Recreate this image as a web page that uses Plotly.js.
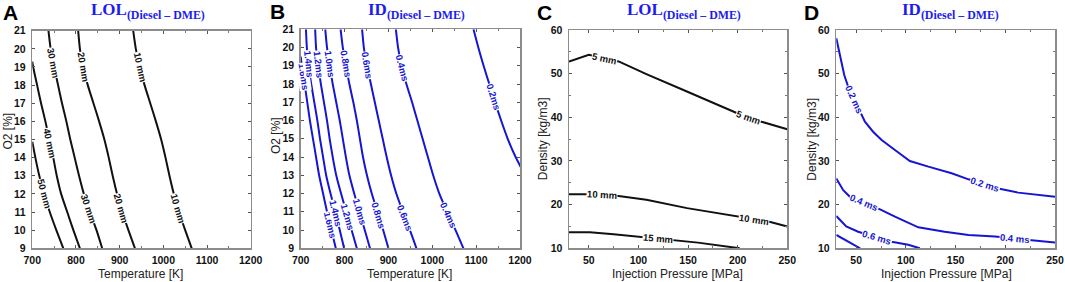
<!DOCTYPE html>
<html><head><meta charset="utf-8">
<script src="https://cdn.plot.ly/plotly-3.0.1.min.js"></script>
<style>html,body{margin:0;padding:0;background:#fff;}#chart{width:1065px;height:282px;}</style>
</head><body><div id="chart"></div>
<script>
// ---------- DATA ----------
const O2_GRID = [21, 20, 19, 18, 17, 16, 15, 14, 13, 12, 11, 10, 9];

// Panel A: LOL contours, Temperature [K] vs O2 [%]
const lolA_names = ['10 mm', '20 mm', '30 mm', '40 mm', '50 mm'];
const lolA_T = [
  [931, 937, 946, 957, 970, 983, 995, 1005, 1014, 1024, 1036, 1050, 1065],
  [805, 809, 816, 827, 840, 853, 865, 875, 884, 894, 906, 920, 935],
  [737, 742, 750, 759, 768, 778, 787, 797, 807, 818, 832, 847, 860],
  [700, 702, 711, 720, 730, 739, 748, 756, 766, 780, 794, 809],
  [700, 707, 716, 727, 740, 755, 771]
];
const lolA_O2 = [
  O2_GRID, O2_GRID, O2_GRID,
  [19.3, 19, 18, 17, 16, 15, 14, 13, 12, 11, 10, 9],
  [14.88, 14, 13, 12, 11, 10, 9]
];
const lolA_labelLine = [0, 0, 1, 1, 2, 2, 3, 4];
const lolA_labelO2   = [19.0, 11.2, 19.0, 11.2, 19.2, 11.2, 14.8, 12.0];

// Panel B: ID contours, Temperature [K] vs O2 [%]
const idB_names = ['1.6ms', '1.4ms', '1.2ms', '1.0ms', '0.8ms', '0.6ms', '0.4ms', '0.2ms'];
const idB_T = [
  [700, 703, 709, 715, 721, 728, 735, 742, 751, 760, 770, 780],
  [712, 714, 718, 724, 731, 738, 744, 751, 758, 768, 779, 789, 799],
  [733, 735, 740, 746, 753, 760, 766, 773, 781, 792, 804, 816, 828],
  [756, 760, 766, 773, 781, 789, 796, 803, 811, 822, 834, 846, 858],
  [791, 796, 803, 811, 820, 828, 835, 842, 851, 862, 875, 888, 900],
  [840, 844, 851, 860, 869, 878, 887, 896, 906, 918, 933, 949, 964],
  [917, 922, 930, 941, 954, 966, 978, 990, 1002, 1016, 1034, 1053, 1071],
  [1094, 1105, 1117, 1130, 1143, 1157, 1172, 1190, 1212]
];
const idB_O2 = [
  [19.5, 19, 18, 17, 16, 15, 14, 13, 12, 11, 10, 9],
  O2_GRID, O2_GRID, O2_GRID, O2_GRID, O2_GRID, O2_GRID,
  [21, 20, 19, 18, 17, 16, 15, 14, 13]
];
const idB_labelLine = [0, 0, 1, 1, 2, 2, 3, 3, 4, 4, 5, 5, 6, 6, 7];
const idB_labelO2   = [18.4, 10.3, 19.1, 10.9, 19.1, 10.7, 19.1, 11.0, 19.1, 10.8, 19.0, 10.7, 18.9, 10.8, 17.3];

// Panel C: LOL contours, Injection Pressure [MPa] vs Density [kg/m3]
const lolC_names = ['5 mm', '10 mm', '15 mm'];
const lolC_P = [
  [30, 50, 80, 108, 150, 199, 224, 250],
  [30, 48, 80, 108, 149, 199, 232, 250],
  [30, 51, 75, 101, 135, 160, 202]
];
const lolC_rho = [
  [52.75, 54.3, 52.8, 49.9, 45.8, 41.0, 39.0, 37.25],
  [22.4, 22.4, 22.0, 21.1, 19.2, 17.25, 16.1, 15.0],
  [13.7, 13.65, 13.2, 12.6, 11.9, 11.3, 10.0]
];
const lolC_labelLine = [0, 0, 1, 1, 2];
const lolC_labelP    = [66, 211, 63, 216, 120];

// Panel D: ID contours, Injection Pressure [MPa] vs Density [kg/m3]
const idD_names = ['0.2 ms', '0.4 ms', '0.6 ms', ''];
const idD_P = [
  [30, 33.7, 38, 42, 50, 58.8, 67, 75.6, 89, 104, 122.6, 146, 163, 193, 213, 250],
  [30, 37, 43.7, 74, 89, 104, 112.5, 139, 163, 189.6, 228, 250],
  [30, 40, 52, 85.7, 102.4, 114],
  [30, 42, 54]
];
const idD_rho = [
  [58.1, 53.9, 49.7, 47, 43, 39.0, 36.7, 34.8, 32.5, 30, 28.7, 27.2, 25.8, 23.7, 22.75, 21.8],
  [26.0, 23.3, 21.8, 18.9, 17.25, 15.7, 14.8, 13.8, 13.05, 12.7, 11.9, 11.3],
  [17.4, 15.0, 13.8, 11.5, 10.8, 10.0],
  [13.05, 11.5, 10.0]
];
const idD_labelLine = [0, 0, 1, 1, 2];
const idD_labelP    = [48, 180, 58, 210, 71];

// Texts
const panelLetters = ['A', 'B', 'C', 'D'];
const panelTitleMain = ['LOL', 'ID', 'LOL', 'ID'];
const panelTitleSub = '(Diesel – DME)';
const xTitles = ['Temperature [K]', 'Temperature [K]', 'Injection Pressure [MPa]', 'Injection Pressure [MPa]'];
const yTitles = ['O2 [%]', 'O2 [%]', 'Density [kg/m3]', 'Density [kg/m3]'];

// ---------- LAYOUT / STYLE ----------
const W = 1065, H = 282;
const BLACK = '#111111', BLUE = '#1616d2', TITLE_BLUE = '#1c1cf0';
const P = [
  {id: '',  left: 32.3,  right: 250.7, top: 30.7, bottom: 248.3, xr: [700, 1200], yr: [9, 21], xd: 100, xm: 50, yd: 1, ym: null,
   letter: [10.5, 12.5], title: [148, 11], xt: [140.5, 274], yt: [7.5, 131]},
  {id: '2', left: 300.7, right: 520,   top: 29.3, bottom: 248.3, xr: [700, 1200], yr: [9, 21], xd: 100, xm: 50, yd: 1, ym: null,
   letter: [277.5, 12], title: [416, 11], xt: [409, 274], yt: [276, 136]},
  {id: '3', left: 569,   right: 787.3, top: 30,   bottom: 248.3, xr: [30, 250], yr: [10, 60], xd: 50, xm: 25, yd: 10, ym: 5,
   letter: [544, 12.5], title: [684, 11], xt: [677, 274], yt: [542.7, 138.5]},
  {id: '4', left: 836.3, right: 1055,  top: 30,   bottom: 248.3, xr: [30, 250], yr: [10, 60], xd: 50, xm: 25, yd: 10, ym: 5,
   letter: [811.5, 12.5], title: [950, 11], xt: [946, 274], yt: [811.7, 139]}
];

const layout = {
  width: W, height: H, margin: {l: 0, r: 0, t: 0, b: 0},
  paper_bgcolor: '#ffffff', plot_bgcolor: '#ffffff', showlegend: false,
  annotations: []
};
const tickFont = {family: 'Arial, Liberation Sans', size: 10.5, color: '#111', weight: 'bold'};

P.forEach((p, i) => {
  const common = {
    showline: true, linecolor: '#8c8c8c', linewidth: 1.5, mirror: 'ticks',
    ticks: 'inside', ticklen: 3, tickwidth: 1, tickcolor: '#555',
    showgrid: false, zeroline: false, tickfont: tickFont, fixedrange: true
  };
  layout['xaxis' + p.id] = Object.assign({}, common, {
    domain: [p.left / W, p.right / W], range: p.xr, dtick: p.xd, tick0: 0,
    anchor: 'y' + p.id, ticklabelstandoff: 2,
    minor: {ticks: 'inside', ticklen: 2, dtick: p.xm, tick0: 0, tickcolor: '#777', showgrid: false}
  });
  const ya = Object.assign({}, common, {
    domain: [1 - p.bottom / H, 1 - p.top / H], range: p.yr, dtick: p.yd, tick0: 0,
    anchor: 'x' + p.id, ticklabelstandoff: 3
  });
  if (p.ym) ya.minor = {ticks: 'inside', ticklen: 2, dtick: p.ym, tick0: 0, tickcolor: '#777', showgrid: false};
  layout['yaxis' + p.id] = ya;

  layout.annotations.push({
    xref: 'paper', yref: 'paper', x: p.letter[0] / W, y: 1 - p.letter[1] / H,
    xanchor: 'center', yanchor: 'middle', showarrow: false, text: '<b>' + panelLetters[i] + '</b>',
    font: {family: 'Arial, Liberation Sans', size: 21, color: '#000'}
  });
  layout.annotations.push({
    xref: 'paper', yref: 'paper', x: p.title[0] / W, y: 1 - p.title[1] / H,
    xanchor: 'center', yanchor: 'middle', showarrow: false,
    text: '<b>' + panelTitleMain[i] + '<sub>' + panelTitleSub + '</sub></b>',
    font: {family: 'Liberation Serif, Times New Roman, serif', size: 17, color: TITLE_BLUE}
  });
  layout.annotations.push({
    xref: 'paper', yref: 'paper', x: p.xt[0] / W, y: 1 - p.xt[1] / H,
    xanchor: 'center', yanchor: 'middle', showarrow: false, text: xTitles[i],
    font: {family: 'Arial, Liberation Sans', size: 12, color: '#222'}
  });
  layout.annotations.push({
    xref: 'paper', yref: 'paper', x: p.yt[0] / W, y: 1 - p.yt[1] / H,
    xanchor: 'center', yanchor: 'middle', showarrow: false, text: yTitles[i], textangle: -90,
    font: {family: 'Arial, Liberation Sans', size: 12, color: '#222'}
  });
});

const traces = [];
function addPanel(pi, xs, ys, names, color, labelLine, labelPos, along, shape) {
  const p = P[pi];
  const sx = (p.right - p.left) / (p.xr[1] - p.xr[0]);
  const sy = (p.bottom - p.top) / (p.yr[1] - p.yr[0]);
  xs.forEach((xarr, k) => {
    traces.push({
      type: 'scatter', mode: 'lines', x: xarr, y: ys[k], xaxis: 'x' + p.id, yaxis: 'y' + p.id,
      line: {color: color, width: 2, shape: shape, smoothing: 0.6}, hoverinfo: 'skip', name: names[k]
    });
  });
  labelLine.forEach((k, j) => {
    const xa = xs[k], yaArr = ys[k], v = labelPos[j];
    const key = along === 'y' ? yaArr : xa;
    for (let i = 0; i < key.length - 1; i++) {
      if ((key[i] - v) * (key[i + 1] - v) <= 0 && key[i] !== key[i + 1]) {
        const t = (v - key[i]) / (key[i + 1] - key[i]);
        const lx = xa[i] + t * (xa[i + 1] - xa[i]);
        const ly = yaArr[i] + t * (yaArr[i + 1] - yaArr[i]);
        let dx = (xa[i + 1] - xa[i]) * sx, dy = -(yaArr[i + 1] - yaArr[i]) * sy;
        if (dx < 0) { dx = -dx; dy = -dy; }
        const ang = Math.atan2(dy, dx) * 180 / Math.PI;
        layout.annotations.push({
          xref: 'x' + p.id, yref: 'y' + p.id, x: lx, y: ly, showarrow: false,
          text: '<b>' + names[k] + '</b>', textangle: ang, xanchor: 'center', yanchor: 'middle',
          bgcolor: '#ffffff', borderpad: 0,
          font: {family: 'Arial, Liberation Sans', size: 9.5, color: color}
        });
        break;
      }
    }
  });
}

addPanel(0, lolA_T, lolA_O2, lolA_names, BLACK, lolA_labelLine, lolA_labelO2, 'y', 'spline');
addPanel(1, idB_T, idB_O2, idB_names, BLUE, idB_labelLine, idB_labelO2, 'y', 'spline');
addPanel(2, lolC_P, lolC_rho, lolC_names, BLACK, lolC_labelLine, lolC_labelP, 'x', 'linear');
addPanel(3, idD_P, idD_rho, idD_names, BLUE, idD_labelLine, idD_labelP, 'x', 'linear');

Plotly.newPlot('chart', traces, layout, {displayModeBar: false, staticPlot: true});
</script></body></html>
